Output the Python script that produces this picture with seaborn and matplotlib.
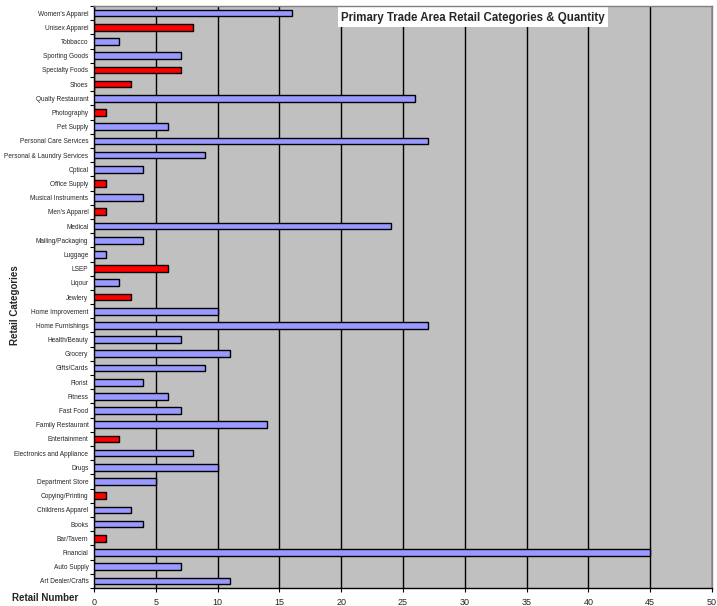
import matplotlib
matplotlib.use("Agg")
import matplotlib.pyplot as plt
from matplotlib.patches import Rectangle
from matplotlib.ticker import MultipleLocator, FixedLocator
import seaborn as sns
import pandas as pd

# Retail categories, listed top to bottom
categories = [
    "Women's Apparel", "Unisex Apparel", "Tobbacco", "Sporting Goods",
    "Specialty Foods", "Shoes", "Qualty Restaurant", "Photography",
    "Pet Supply", "Personal Care Services", "Personal & Laundry Services",
    "Optical", "Office Supply", "Musical Instruments", "Men's Apparel",
    "Medical", "Mailing/Packaging", "Luggage", "LSEP", "Liqour", "Jewlery",
    "Home Improvement", "Home Furnishings", "Health/Beauty", "Grocery",
    "Gifts/Cards", "Florist", "Fitness", "Fast Food", "Family Restaurant",
    "Entertainment", "Electronics and Appliance", "Drugs", "Department Store",
    "Copying/Printing", "Childrens Apparel", "Books", "Bar/Tavern",
    "Financial", "Auto Supply", "Art Dealer/Crafts",
]
counts = [
    16, 8, 2, 7, 7, 3, 26, 1, 6, 27, 9, 4, 1, 4, 1, 24, 4, 1, 6, 2, 3,
    10, 27, 7, 11, 9, 4, 6, 7, 14, 2, 8, 10, 5, 1, 3, 4, 1, 45, 7, 11,
]
# Categories highlighted in red
highlighted = [
    "Unisex Apparel", "Specialty Foods", "Shoes", "Photography",
    "Office Supply", "Men's Apparel", "LSEP", "Jewlery", "Entertainment",
    "Copying/Printing", "Bar/Tavern",
]

BLUE = "#9999FF"
RED = "#FF0000"
palette = {c: (RED if c in highlighted else BLUE) for c in categories}

df = pd.DataFrame({"category": categories, "count": counts})

sns.set_style("white")
plt.rcParams["font.family"] = ["Liberation Sans", "DejaVu Sans"]

fig = plt.figure(figsize=(7.17, 6.06), dpi=100)
ax = fig.add_axes([94 / 717, 1 - 588 / 606, 618 / 717, 582 / 606])
ax.set_facecolor("#C0C0C0")

sns.barplot(
    data=df, x="count", y="category", hue="category", palette=palette,
    order=categories, hue_order=categories, legend=False, orient="h",
    width=0.47, edgecolor="black", linewidth=1.0, saturation=1, ax=ax,
    zorder=3,
)

ax.set_xlim(0, 50)
ax.set_ylim(len(categories) - 0.5, -0.5)
ax.xaxis.set_major_locator(MultipleLocator(5))
ax.grid(axis="x", color="black", linewidth=1.0, zorder=1)
ax.set_axisbelow(True)

# tick marks at category boundaries, labels centred on the bars
ax.yaxis.set_minor_locator(FixedLocator([i - 0.5 for i in range(len(categories) + 1)]))
ax.tick_params(axis="y", which="major", length=0, labelsize=4.7, pad=4)
ax.tick_params(axis="y", which="minor", length=3, width=0.8, color="black", left=True)
ax.tick_params(axis="x", which="major", length=3, width=0.8, color="black",
               labelsize=6.5, pad=4, bottom=True)

for side in ("left", "bottom"):
    ax.spines[side].set_color("black")
    ax.spines[side].set_linewidth(1.0)
for side in ("top", "right"):
    ax.spines[side].set_color("#808080")
    ax.spines[side].set_linewidth(1.0)

ax.set_xlabel("")
ax.set_ylabel("")

# title box inside the plot area
ax.add_patch(Rectangle((0.395, 0.964), 0.437, 0.04, transform=ax.transAxes,
                       facecolor="white", edgecolor="none", zorder=2, clip_on=False))
ax.text(0.6135, 0.979, "Primary Trade Area Retail Categories & Quantity",
        transform=ax.transAxes, ha="center", va="center",
        fontsize=8.3, fontweight="bold", zorder=4)

fig.text(15 / 717, 1 - 305 / 606, "Retail Categories", rotation=90,
         ha="center", va="center", fontsize=7, fontweight="bold")
fig.text(12 / 717, 1 - 598 / 606, "Retail Number", ha="left", va="center",
         fontsize=7, fontweight="bold")

fig.savefig("out.png", dpi=100, facecolor="white")
